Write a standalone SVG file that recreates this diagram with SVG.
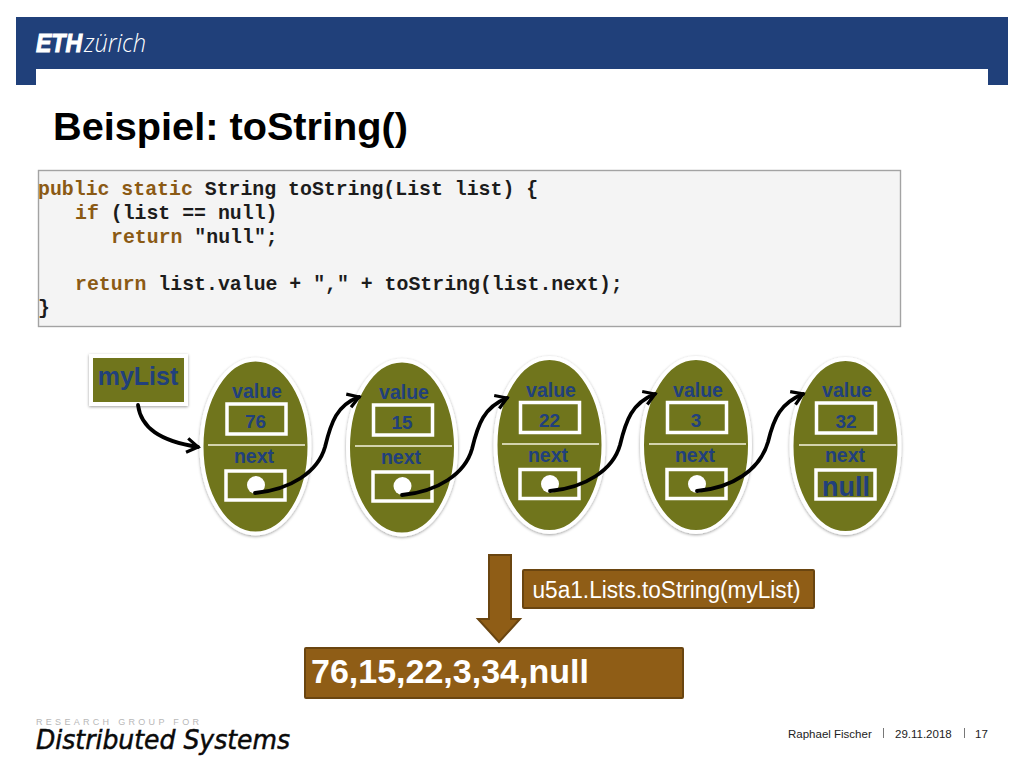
<svg xmlns="http://www.w3.org/2000/svg" width="1024" height="768" viewBox="0 0 1024 768">
<style>
text{font-family:"Liberation Sans",Arial,sans-serif}
.code{font-family:"Liberation Mono","Courier New",monospace;font-size:19.85px;font-weight:700;fill:#1c1c1c}
.kw{fill:#8b5a14}
.oval{fill:#6f751b;stroke:#fff;stroke-width:4;filter:url(#sh)}
.box{fill:none;stroke:#fff;stroke-width:3.5}
.div{stroke:#f4f3dc;stroke-width:1.6}
.lbl{font-size:19.5px;font-weight:700;fill:#21407c;text-anchor:middle}
.num{font-size:19px;font-weight:700;fill:#21407c;text-anchor:middle}
.dot{fill:#fff}
.conn{fill:none;stroke:#000;stroke-width:3.8;stroke-linecap:round;marker-end:url(#arr)}
.brown{fill:#8f5d16;stroke:#6a4510;stroke-width:2}
</style>
<defs>
<filter id="sh" x="-20%" y="-20%" width="140%" height="140%"><feDropShadow dx="0" dy="1" stdDeviation="1.8" flood-color="#000" flood-opacity=".38"/></filter>
<marker id="arr" markerUnits="userSpaceOnUse" markerWidth="18" markerHeight="18" refX="14" refY="9" orient="auto"><path d="M3 2 L14 9 L3 16" fill="none" stroke="#000" stroke-width="3.2"/></marker>
</defs>
<rect width="1024" height="768" fill="#fff"/>
<g id="header">
<path d="M16 17H1008V85H988V69H36V85H16Z" fill="#20407a"/>
<text x="36" y="52" font-size="25" font-weight="700" font-style="italic" fill="#fff" stroke="#fff" stroke-width="1" textLength="46" lengthAdjust="spacingAndGlyphs">ETH</text>
<text x="84" y="52" font-size="25" font-style="italic" fill="#fff" textLength="62" lengthAdjust="spacingAndGlyphs" style="font-family:'Open Sans',sans-serif;font-weight:300">zürich</text>
</g>
<text id="title" x="53" y="140" font-size="39.7" font-weight="700" fill="#000">Beispiel: toString()</text>
<g id="code">
<rect x="38.500" y="170.500" width="862" height="156" fill="#f4f4f4" stroke="#a3a3a3" stroke-width="1.400"/>
<text class="code" x="38" y="195"><tspan class="kw">public static</tspan> String toString(List list) {</text>
<text class="code" x="75" y="219"><tspan class="kw">if</tspan> (list == null)</text>
<text class="code" x="111" y="243"><tspan class="kw">return</tspan> "null";</text>
<text class="code" x="75" y="290"><tspan class="kw">return</tspan> list.value + "," + toString(list.next);</text>
<text class="code" x="38" y="314">}</text>
</g>
<g id="myList">
<rect x="91" y="356" width="95" height="48" fill="#6f751b" stroke="#fff" stroke-width="4" filter="url(#sh)"/>
<text x="138" y="385" font-size="25" font-weight="700" fill="#21407c" text-anchor="middle">myList</text>
</g>
<g id="node1">
<ellipse class="oval" cx="255.500" cy="446.500" rx="54" ry="87"/>
<text class="lbl" x="257" y="398">value</text>
<rect class="box" x="227" y="404" width="59" height="30"/>
<text class="num" x="255.500" y="428">76</text>
<line class="div" x1="208" y1="445" x2="305" y2="445"/>
<text class="lbl" x="254" y="463">next</text>
<rect class="box" x="226" y="471" width="59" height="29"/>
<circle class="dot" cx="256" cy="485" r="9"/>
</g>
<g id="node2">
<ellipse class="oval" cx="402" cy="447.500" rx="54" ry="87"/>
<text class="lbl" x="404" y="399">value</text>
<rect class="box" x="373.500" y="405" width="59" height="30"/>
<text class="num" x="402" y="429">15</text>
<line class="div" x1="355" y1="446" x2="452" y2="446"/>
<text class="lbl" x="401" y="464">next</text>
<rect class="box" x="373" y="472" width="59" height="29"/>
<circle class="dot" cx="402.500" cy="486" r="9"/>
</g>
<g id="node3">
<ellipse class="oval" cx="549.500" cy="445" rx="54" ry="87"/>
<text class="lbl" x="551" y="397">value</text>
<rect class="box" x="520.500" y="402.500" width="59" height="30"/>
<text class="num" x="549.500" y="427">22</text>
<line class="div" x1="502" y1="444" x2="599" y2="444"/>
<text class="lbl" x="548" y="462">next</text>
<rect class="box" x="520" y="469.500" width="59" height="29"/>
<circle class="dot" cx="550" cy="484" r="9"/>
</g>
<g id="node4">
<ellipse class="oval" cx="696" cy="445" rx="54" ry="87"/>
<text class="lbl" x="698" y="397">value</text>
<rect class="box" x="667.500" y="402.500" width="59" height="30"/>
<text class="num" x="696" y="427">3</text>
<line class="div" x1="649" y1="444" x2="746" y2="444"/>
<text class="lbl" x="695" y="462">next</text>
<rect class="box" x="667" y="469.500" width="59" height="29"/>
<circle class="dot" cx="697" cy="484" r="9"/>
</g>
<g id="node5">
<ellipse class="oval" cx="845.500" cy="446" rx="54" ry="87"/>
<text class="lbl" x="847" y="397">value</text>
<rect class="box" x="816.500" y="403" width="59" height="30"/>
<text class="num" x="846" y="428">32</text>
<line class="div" x1="799" y1="445" x2="896" y2="445"/>
<text class="lbl" x="845" y="462">next</text>
<rect class="box" x="816" y="470" width="59" height="29"/>
<text x="846" y="496" font-size="27" font-weight="700" fill="#21407c" text-anchor="middle">null</text>
</g>
<g id="connectors">
<path class="conn" d="M138 405C141 428 160 441 198 447"/>
<path class="conn" d="M255 493C290 490 318 472 325 447C331 422 337 405 359 397"/>
<path class="conn" d="M402 495C437 492 465 474 472 449C478 424 484 407 507 398"/>
<path class="conn" d="M550 491C585 488 613 470 620 445C626 420 632 403 655 394"/>
<path class="conn" d="M697 491C732 488 760 470 768 442C774 417 781 403 803 394"/>
</g>
<g id="result">
<path class="brown" d="M489 555H511V619H520L499 642L478 619H489Z"/>
<rect class="brown" x="523" y="570" width="291" height="38" rx="1"/>
<text x="666.500" y="598" font-size="23" fill="#fff" text-anchor="middle" textLength="268" lengthAdjust="spacingAndGlyphs">u5a1.Lists.toString(myList)</text>
<rect class="brown" x="305" y="648" width="378" height="50" rx="1"/>
<text x="311" y="683" font-size="34" font-weight="700" fill="#fff">76,15,22,3,34,null</text>
</g>
<g id="footer">
<text x="36" y="725" font-size="9" fill="#b8b8b8" letter-spacing="3.300">RESEARCH GROUP FOR</text>
<text x="36" y="749" font-size="26" font-style="italic" fill="#0a0a0a" stroke="#0a0a0a" stroke-width=".5" style="font-family:'DejaVu Sans',sans-serif" textLength="254" lengthAdjust="spacingAndGlyphs">Distributed Systems</text>
<text x="788" y="738" font-size="11.500" fill="#222">Raphael Fischer</text>
<line x1="883.500" y1="728" x2="883.500" y2="738" stroke="#777"/>
<text x="895" y="738" font-size="11.500" fill="#222">29.11.2018</text>
<line x1="964.500" y1="728" x2="964.500" y2="738" stroke="#777"/>
<text x="975" y="738" font-size="11.500" fill="#222">17</text>
</g>
</svg>
